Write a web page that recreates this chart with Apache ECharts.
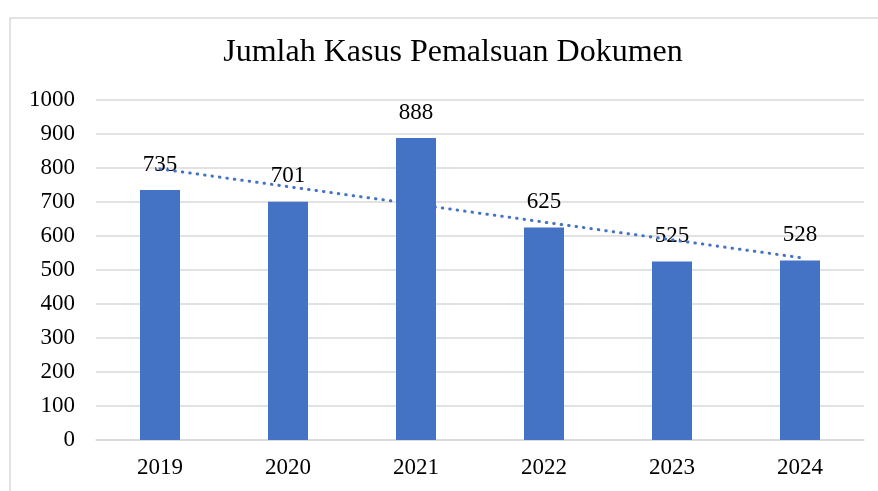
<!DOCTYPE html>
<html>
<head>
<meta charset="UTF-8">
<title>Jumlah Kasus Pemalsuan Dokumen</title>
<script src="https://cdn.jsdelivr.net/npm/echarts@6/dist/echarts.min.js"></script>
<style>
  html, body { margin: 0; padding: 0; background: #fff; }
  #chart { width: 878px; height: 491px; }
</style>
</head>
<body>
<div id="chart"></div>
<script>
var years = ['2019', '2020', '2021', '2022', '2023', '2024'];
var kasus = [735, 701, 888, 625, 525, 528];

// linear trendline (like Excel's), fitted to the bars
function linearTrend(vals) {
    var n = vals.length, sx = 0, sy = 0, sxy = 0, sxx = 0;
    for (var i = 0; i < n; i++) {
        sx += i; sy += vals[i]; sxy += i * vals[i]; sxx += i * i;
    }
    var b = (n * sxy - sx * sy) / (n * sxx - sx * sx);
    var a = (sy - b * sx) / n;
    return vals.map(function (v, i) { return +(a + b * i).toFixed(2); });
}
var trend = linearTrend(kasus);

var font = '"Liberation Serif", "Times New Roman", serif';
var chart = echarts.init(document.getElementById('chart'));
chart.setOption({
    animation: false,
    title: {
        text: 'Jumlah Kasus Pemalsuan Dokumen',
        left: 448,
        textAlign: 'center',
        top: 32,
        textStyle: { fontFamily: font, fontSize: 32, fontWeight: 'normal', color: '#000' }
    },
    graphic: [{
        type: 'rect',
        shape: { x: 10, y: 18, width: 900, height: 520 },
        style: { fill: 'none', stroke: '#d9d9d9', lineWidth: 1.5 },
        silent: true
    }],
    grid: { left: 96, right: 14, top: 100, bottom: 51 },
    xAxis: {
        type: 'category',
        data: years,
        axisTick: { show: false },
        axisLine: { lineStyle: { color: '#d9d9d9', width: 1.5 } },
        axisLabel: { fontFamily: font, fontSize: 23, color: '#000', margin: 16 }
    },
    yAxis: {
        type: 'value',
        min: 0,
        max: 1000,
        interval: 100,
        axisLine: { show: false },
        axisTick: { show: false },
        splitLine: { lineStyle: { color: '#d9d9d9', width: 1.5 } },
        axisLabel: {
            fontFamily: font, fontSize: 23, color: '#000', margin: 21,
            formatter: function (v) { return String(v); }
        }
    },
    series: [{
        type: 'bar',
        data: kasus,
        barWidth: 40,
        itemStyle: { color: '#4472C4' },
        label: {
            show: true,
            position: 'top',
            distance: 14,
            fontFamily: font,
            fontSize: 23,
            color: '#000'
        }
    }, {
        type: 'line',
        data: trend,
        symbol: 'none',
        z: 3,
        lineStyle: { color: '#4472C4', width: 3, type: [0.5, 7], cap: 'round' }
    }]
});
</script>
</body>
</html>
